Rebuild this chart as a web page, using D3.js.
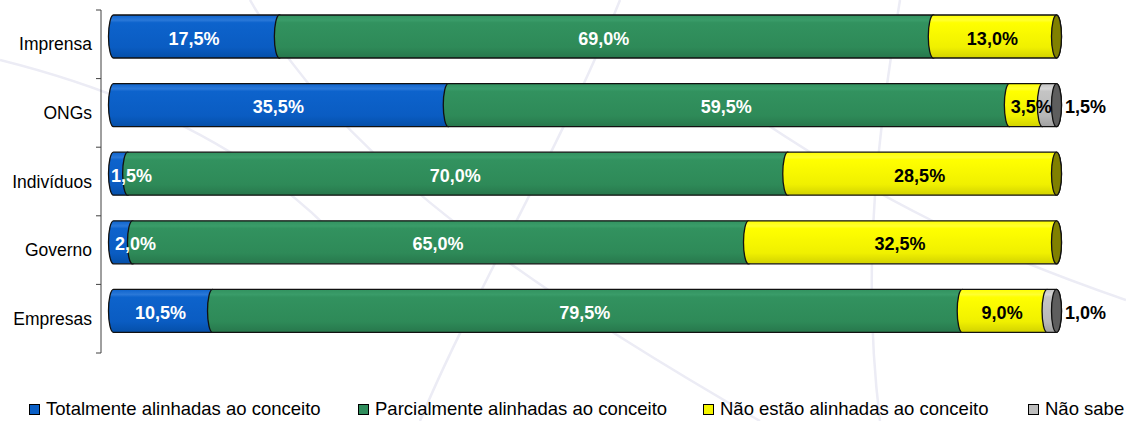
<!DOCTYPE html>
<html>
<head>
<meta charset="utf-8">
<script src="https://cdn.jsdelivr.net/npm/d3@7"></script>
<style>
  body { margin: 0; background: #fff; }
  svg { display: block; font-family: "Liberation Sans", Arial, sans-serif; }
</style>
</head>
<body>
<div id="chart"></div>
<script>
const categories = ["Imprensa", "ONGs", "Indivíduos", "Governo", "Empresas"];
const seriesNames = ["Totalmente alinhadas ao conceito", "Parcialmente alinhadas ao conceito", "Não estão alinhadas ao conceito", "Não sabe"];
const totalmente = [17.5, 35.5, 1.5, 2.0, 10.5];
const parcialmente = [69.0, 59.5, 70.0, 65.0, 79.5];
const naoEstao = [13.0, 3.5, 28.5, 32.5, 9.0];
const naoSabe = [0, 1.5, 0, 0, 1.0];

const colors = ["#0a5fc6", "#2f8d5c", "#f4f400", "#bdbdbd"];
const capColors = ["#08408a", "#1e5c3c", "#808000", "#5e5e5e"];
const textColors = ["#fff", "#fff", "#000", "#000"];

const W = 1126, H = 421;
const svg = d3.select("#chart").append("svg").attr("width", W).attr("height", H);
const defs = svg.append("defs");

// vertical gradients for the cylinder look
const shades = [
    ["#2a78d8", "#0d63cc", "#0a5cc2", "#054fa8"],
    ["#3a9c69", "#32925f", "#2e8a58", "#27774c"],
    ["#ffff30", "#ffff00", "#f0f000", "#d2d200"],
    ["#d6d6d6", "#c4c4c4", "#b8b8b8", "#a0a0a0"]
];
shades.forEach((s, i) => {
    const g = defs.append("linearGradient").attr("id", "grad" + i)
        .attr("x1", 0).attr("x2", 0).attr("y1", 0).attr("y2", 1);
    g.append("stop").attr("offset", "0%").attr("stop-color", s[1]);
    g.append("stop").attr("offset", "12%").attr("stop-color", s[0]);
    g.append("stop").attr("offset", "18%").attr("stop-color", s[1]);
    g.append("stop").attr("offset", "75%").attr("stop-color", s[2]);
    g.append("stop").attr("offset", "100%").attr("stop-color", s[3]);
});

// faint watermark curves
const wm = svg.append("g").attr("fill", "none").attr("stroke", "#ececf5").attr("stroke-width", 2.5);
wm.append("path").attr("d", "M250,0 C330,140 480,260 760,421");
wm.append("path").attr("d", "M620,0 C560,150 470,300 420,421");
wm.append("path").attr("d", "M1126,300 C980,250 880,200 760,120");
wm.append("path").attr("d", "M0,60 C120,90 240,140 330,230");
wm.append("path").attr("d", "M900,0 C880,120 860,260 880,421");

const y = d3.scaleBand().domain(categories).range([10, 353]);
const x = d3.scaleLinear().domain([0, 1]).range([111, 1054]);
const barOffset = 5, barH = 43, cx = 2.5;

// axis
svg.append("line").attr("x1", 101).attr("x2", 101).attr("y1", 10).attr("y2", 353)
    .attr("stroke", "#404040").attr("stroke-width", 1);
const tickYs = categories.map(c => y(c)).concat([y.range()[1]]);
svg.selectAll("line.tick").data(tickYs).enter().append("line")
    .attr("class", "tick")
    .attr("x1", 96).attr("x2", 101).attr("y1", d => d).attr("y2", d => d)
    .attr("stroke", "#404040");
svg.selectAll("text.cat").data(categories).enter().append("text")
    .attr("class", "cat")
    .attr("x", 92).attr("y", d => y(d) + y.bandwidth() / 2)
    .attr("text-anchor", "end").attr("dominant-baseline", "central")
    .attr("font-size", "17.5px").attr("fill", "#000")
    .text(d => d);

// segment path: left edge bulges left like a cylinder slice
function segPath(x0, x1, y0, h) {
    const y1 = y0 + h;
    let d = `M${x0 + cx},${y0} L${x1 + cx},${y0}`;
    d += ` A${cx * 2},${h / 2} 0 0 1 ${x1 + cx},${y1}`;
    d += ` L${x0 + cx},${y1}`;
    d += ` A${cx * 2},${h / 2} 0 0 1 ${x0 + cx},${y0} Z`;
    return d;
}

const rows = categories.map((c, i) => {
    const vals = [totalmente[i], parcialmente[i], naoEstao[i], naoSabe[i]];
    const total = d3.sum(vals);
    let cum = 0;
    const segs = vals.map((v, k) => {
        const s = { k: k, v: v, start: cum / total, end: (cum + v) / total };
        cum += v;
        return s;
    }).filter(s => s.v > 0);
    return { cat: c, segs: segs };
});

rows.forEach(row => {
    const g = svg.append("g");
    const y0 = y(row.cat) + barOffset;
    row.segs.forEach(s => {
        g.append("path")
            .attr("d", segPath(x(s.start), x(s.end), y0, barH))
            .attr("fill", `url(#grad${s.k})`)
            .attr("stroke", "#111").attr("stroke-width", 1.3);
    });
    // right end cap
    const last = row.segs[row.segs.length - 1];
    g.append("ellipse")
        .attr("cx", x(1) + cx).attr("cy", y0 + barH / 2)
        .attr("rx", cx * 2).attr("ry", barH / 2)
        .attr("fill", capColors[last.k])
        .attr("stroke", "#111").attr("stroke-width", 1.3);
    // labels
    row.segs.forEach(s => {
        const mid = (x(s.start) + x(s.end)) / 2;
        const ty = y0 + barH / 2 + 2;
        const label = d3.format(".1f")(s.v).replace(".", ",") + "%";
        if (s.k === 3) {
            g.append("text")
                .attr("x", x(1) + 11).attr("y", ty)
                .attr("dominant-baseline", "central")
                .attr("font-size", "18px").attr("font-weight", "bold").attr("fill", "#000")
                .text(label);
        } else {
            const small = mid - 20 < x(s.start);
            g.append("text")
                .attr("x", small ? x(s.start) + (s.v > 1.8 ? 4 : 0) : mid)
                .attr("y", ty)
                .attr("text-anchor", small ? "start" : "middle")
                .attr("dominant-baseline", "central")
                .attr("font-size", "18px").attr("font-weight", "bold")
                .attr("fill", textColors[s.k])
                .text(label);
        }
    });
});

// legend
const legendX = [29, 358, 703, 1028];
const legend = svg.append("g");
seriesNames.forEach((name, i) => {
    legend.append("rect")
        .attr("x", legendX[i] + 0.5).attr("y", 404.5).attr("width", 10).attr("height", 10)
        .attr("fill", colors[i]).attr("stroke", "#000").attr("stroke-width", 1);
    legend.append("text")
        .attr("x", legendX[i] + 17).attr("y", 415)
        .attr("font-size", "18.5px").attr("fill", "#000")
        .text(name);
});
</script>
</body>
</html>
